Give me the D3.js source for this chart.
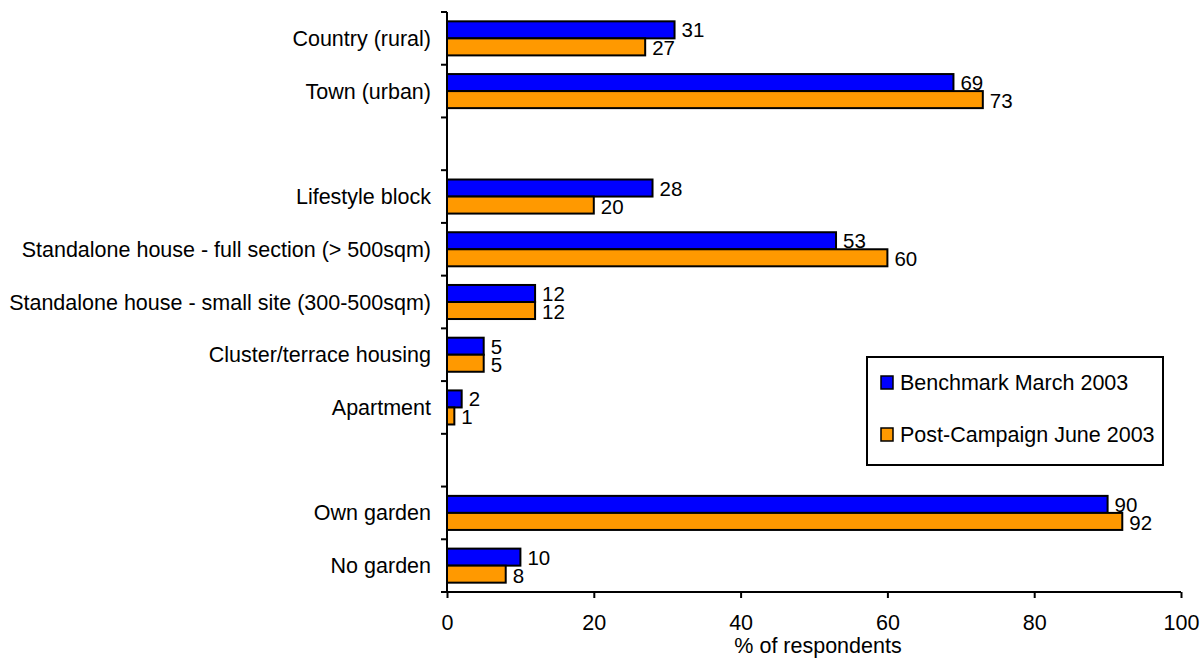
<!DOCTYPE html>
<html><head><meta charset="utf-8">
<script src="https://cdn.jsdelivr.net/npm/d3@7"></script>
<style>body{margin:0;background:#fff}svg{display:block}text{font-family:Arial,"Liberation Sans",sans-serif;fill:#000}</style>
</head><body><svg id="c" width="1203" height="659"></svg>
<script>
const categories = ["Country (rural)","Town (urban)","","Lifestyle block","Standalone house - full section (> 500sqm)","Standalone house - small site (300-500sqm)","Cluster/terrace housing","Apartment","","Own garden","No garden"];
const benchmark = [31,69,null,28,53,12,5,2,null,90,10];
const postCampaign = [27,73,null,20,60,12,5,1,null,92,8];
const seriesNames = ["Benchmark March 2003","Post-Campaign June 2003"];
const seriesColors = ["#0000FF","#FF9900"];
const xTicks = [0,20,40,60,80,100];

const FS = 21.5;
const VFS = 20.5;
const svg = d3.select("#c");
const L=447, R=1181, T=12, B=592;
const x = d3.scaleLinear().domain([0,100]).range([L,R]);
const y = d3.scaleBand().domain(d3.range(categories.length)).range([T,B]).paddingInner(0).paddingOuter(0);
const rowH = y.bandwidth();
const barH = rowH*0.323;
const off = (rowH - 2*barH)/2;

const series=[benchmark,postCampaign];
series.forEach((vals,si)=>{
  const g=svg.append("g");
  vals.forEach((v,i)=>{
    if(v===null) return;
    const y0 = y(i)+off+si*barH;
    g.append("rect").attr("x",x(0)).attr("y",y0).attr("width",x(v)-x(0)).attr("height",barH)
      .attr("fill",seriesColors[si]).attr("stroke","#000").attr("stroke-width",2);
    g.append("text").attr("x",x(v)+7).attr("y",y0+barH/2+(si===0?7.5:8.5)).attr("font-size",VFS).text(v);
  });
});

// y axis
svg.append("line").attr("x1",L).attr("x2",L).attr("y1",T).attr("y2",B).attr("stroke","#000").attr("stroke-width",2);
d3.range(categories.length+1).forEach(i=>{
  const yy = i<categories.length? y(i): B;
  svg.append("line").attr("x1",L-6).attr("x2",L).attr("y1",yy).attr("y2",yy).attr("stroke","#000").attr("stroke-width",2);
});
categories.forEach((c,i)=>{
  svg.append("text").attr("x",431).attr("y",y(i)+rowH/2+7.5).attr("text-anchor","end").attr("font-size",FS).text(c);
});
// x axis
const xa = d3.axisBottom(x).tickValues(xTicks).tickSize(6).tickPadding(17);
const gx = svg.append("g").attr("transform",`translate(0,${B})`).call(xa);
gx.select(".domain").attr("stroke","#000").attr("stroke-width",2).attr("d",`M${L},0H${R}`);
gx.selectAll(".tick line").attr("stroke","#000").attr("stroke-width",2);
gx.selectAll(".tick text").attr("font-size",FS).attr("font-family","Arial, Liberation Sans, sans-serif").attr("fill","#000");
svg.append("text").attr("x",(L+R)/2+4).attr("y",653).attr("text-anchor","middle").attr("font-size",FS).text("% of respondents");

// legend
const lg = svg.append("g");
lg.append("rect").attr("x",867).attr("y",357).attr("width",296).attr("height",108).attr("fill","#fff").attr("stroke","#000").attr("stroke-width",2);
seriesNames.forEach((n,i)=>{
  const yy = 376 + i*52;
  lg.append("rect").attr("x",881).attr("y",yy).attr("width",12).attr("height",13).attr("fill",seriesColors[i]).attr("stroke","#000").attr("stroke-width",1.5);
  lg.append("text").attr("x",900).attr("y",yy+14).attr("font-size",FS).text(n);
});
</script></body></html>
